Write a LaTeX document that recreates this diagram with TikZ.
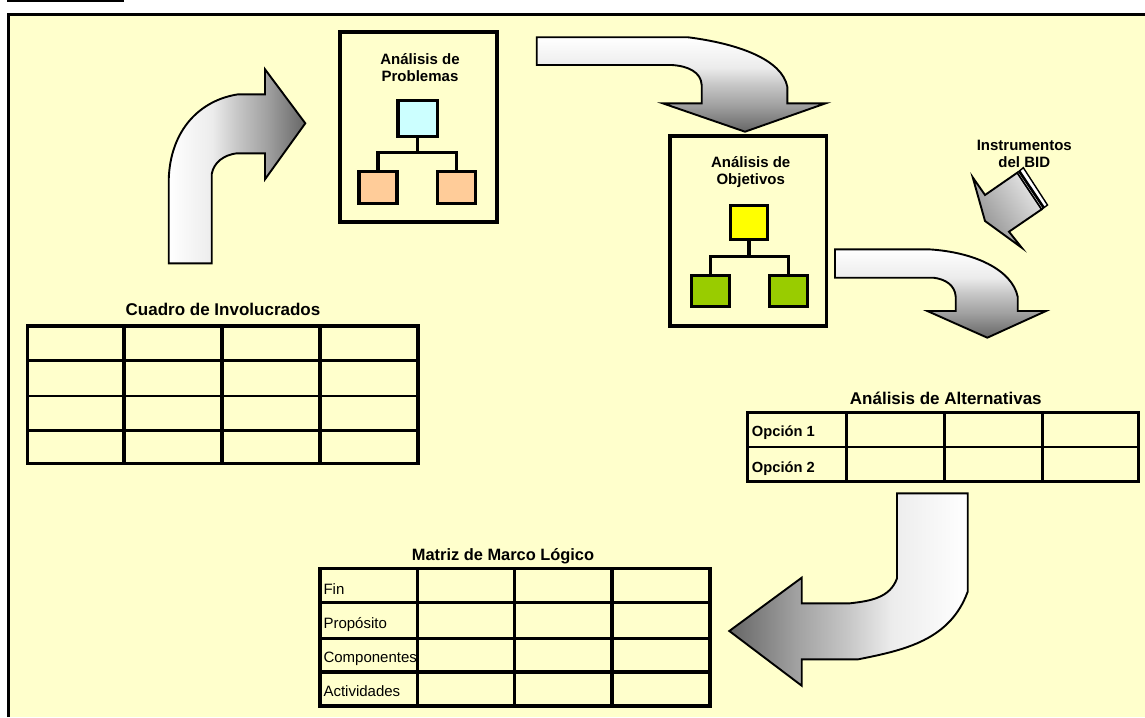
\documentclass[tikz,border=0pt]{standalone}
\usepackage{fontspec}
\setmainfont{Liberation Sans}
\definecolor{paper}{HTML}{FFFFCC}
\definecolor{probtop}{HTML}{CCFFFF}
\definecolor{probsub}{HTML}{FFCC99}
\definecolor{objtop}{HTML}{FFFF00}
\definecolor{objsub}{HTML}{99CC00}
\pgfdeclarehorizontalshading{bendfade}{100bp}{
  rgb(0bp)=(1,1,1); rgb(25bp)=(1,1,1);
  rgb(41bp)=(0.925,0.925,0.925);
  rgb(50bp)=(0.78,0.78,0.78);
  rgb(61bp)=(0.63,0.63,0.63);
  rgb(75bp)=(0.40,0.40,0.40); rgb(100bp)=(0.40,0.40,0.40)}
\tikzset{
  panel/.style={draw=black,line width=3.2pt,fill=paper},
  orgbox/.style={draw=black,line width=3.2pt,inner sep=0pt,outer sep=0pt},
  orgline/.style={draw=black,line width=3.2pt},
  gridthick/.style={draw=black,line width=3.2pt},
  gridthin/.style={draw=black,line width=1.8pt},
  bentarrow/.style={draw=black,line width=1.9pt,line join=miter},
  boldlabel/.style={font=\bfseries\fontsize{15}{17}\selectfont,inner sep=0pt,anchor=base,align=center},
  tabletitle/.style={font=\bfseries\fontsize{17}{19}\selectfont,inner sep=0pt,anchor=base},
  optionlabel/.style={font=\bfseries\fontsize{14.7}{17}\selectfont,inner sep=0pt,anchor=base west},
  rowlabel/.style={font=\fontsize{15}{17}\selectfont,inner sep=0pt,anchor=base west},
}
\begin{document}
\begin{tikzpicture}[x=1pt,y=-1pt]
\useasboundingbox (0,0) rectangle (1145,717);
\fill[white] (0,0) rectangle (1145,717);
% header remnant and main panel
\fill[black] (7,0) rectangle (124,2);
\fill[paper] (8.5,14.5) rectangle (1145,717);
\draw[black,line width=3pt] (8.5,717) -- (8.5,14.5) -- (1145,14.5);

% --- Analisis de Problemas
\draw[panel] (340,32) rectangle (497,222);
\node[boldlabel] (ptitle1) at (420,64) {Análisis de};
\node[boldlabel] (ptitle2) at (420,81.7) {Problemas};
\node[orgbox,fill=probtop,minimum width=39.5pt,minimum height=36.5pt] (p0) at (417.7,118.5) {};
\node[orgbox,fill=probsub,minimum width=38pt,minimum height=32pt] (p1) at (378,187.5) {};
\node[orgbox,fill=probsub,minimum width=38pt,minimum height=32pt] (p2) at (456.3,187.5) {};
\coordinate (pj) at (417.7,152.7);
\draw[orgline] (p0.south) -- (pj);
\draw[orgline] (p1.north) |- (pj) -| (p2.north);

% --- Analisis de Objetivos
\draw[panel] (670,136) rectangle (826.7,326);
\node[boldlabel] (otitle1) at (750.7,167.7) {Análisis de};
\node[boldlabel] (otitle2) at (750.7,184.5) {Objetivos};
\node[orgbox,fill=objtop,minimum width=36.5pt,minimum height=34pt] (o0) at (749,222.3) {};
\node[orgbox,fill=objsub,minimum width=38pt,minimum height=31.5pt] (o1) at (710.5,291) {};
\node[orgbox,fill=objsub,minimum width=38pt,minimum height=31.5pt] (o2) at (788.5,291) {};
\coordinate (oj) at (749,256.3);
\draw[orgline] (o0.south) -- (oj);
\draw[orgline] (o1.north) |- (oj) -| (o2.north);

% --- Bent arrows
\path[bentarrow,shading=bendfade]
  (168.7,263.3) -- (211.7,263.3) -- (211.7,174)
  .. controls (214,162) and (224,155) .. (236.7,153.3)
  -- (265,153.3) -- (265,179.3) -- (305.3,123.3) -- (265,69.3) -- (265,94.3) -- (238.3,94.3)
  .. controls (200,100) and (170,130) .. (168.7,180) -- cycle;

\path[bentarrow,shading=bendfade,shading angle=-90]
  (536.7,37.3) -- (688.3,37.3)
  .. controls (740,44) and (782,60) .. (787.3,86.7)
  -- (787.3,103.3) -- (825.7,103.3) -- (745,131.7) -- (662.7,103.3) -- (701.7,103.3) -- (701.7,85)
  .. controls (701,72) and (688,66) .. (671.7,65)
  -- (536.7,65) -- cycle;

\path[bentarrow,shading=bendfade,shading angle=-90]
  (835,249.3) -- (928.3,249.3)
  .. controls (975,252) and (1012,270) .. (1017.7,296.7)
  -- (1017.7,311) -- (1046,311) -- (987.3,337.7) -- (927.3,311) -- (955.7,311) -- (955.7,296.7)
  .. controls (955,285) and (945,279) .. (933.3,277.7)
  -- (835,277.7) -- cycle;

\path[bentarrow,shading=bendfade,shading angle=180]
  (897,493.3) -- (967.7,493.3) -- (967.7,591.7)
  .. controls (950,640) and (905,650) .. (858.3,659.3)
  -- (801.7,659.3) -- (801.7,685.7) -- (729.3,631) -- (801.7,577.7) -- (801.7,603.3) -- (850,603.3)
  .. controls (870,601) and (890,598) .. (897,578.3) -- cycle;

% --- Instrumentos del BID arrow
\node[boldlabel] (bid1) at (1024.3,150) {Instrumentos};
\node[boldlabel] (bid2) at (1024.3,167.7) {del BID};
\path[bentarrow,top color=white!90!black,bottom color=black!45,shading angle=-55]
  (972.7,177.3) -- (985,195) -- (1017.3,172.7) -- (1041.7,209.3) -- (1009,231.7)
  -- (1021.7,247.7) -- (985,221) -- cycle;
\path[draw=black,line width=1.4pt,fill=white]
  (1017.3,172.7) -- (1023.3,167.7) -- (1047.5,205) -- (1041.7,209.3) -- cycle;
\draw[black,line width=2.6pt] (1019.3,171.3) -- (1043.8,207.8);

% --- Cuadro de Involucrados
\node[tabletitle] (t1) at (223,315.7) {Cuadro de Involucrados};
\draw[gridthick] (27.3,326) rectangle (418,463.7);
\foreach \xa in {124,222,320} \draw[gridthick] (\xa,326) -- (\xa,463.7);
\draw[gridthick] (27.3,360.3) -- (418,360.3);
\draw[gridthin] (27.3,395.7) -- (418,395.7);
\draw[gridthick] (27.3,430.3) -- (418,430.3);

% --- Analisis de Alternativas
\node[tabletitle] (t2) at (945.8,404) {Análisis de Alternativas};
\draw[gridthick] (747.7,412.3) rectangle (1138.3,481.7);
\foreach \xa in {846.3,944.3,1042.3} \draw[gridthick] (\xa,412.3) -- (\xa,481.7);
\draw[gridthin] (747.7,447.3) -- (1138.3,447.3);
\node[optionlabel] (op1) at (751.7,436) {Opción 1};
\node[optionlabel] (op2) at (751.7,472.3) {Opción 2};

% --- Matriz de Marco Logico
\node[tabletitle,font=\bfseries\fontsize{16.4}{19}\selectfont] (t3) at (503,560) {Matriz de Marco Lógico};
\draw[gridthick] (320,568.3) rectangle (710,706);
\foreach \xa in {417.7,514.3,612} \draw[gridthick] (\xa,568.3) -- (\xa,706);
\foreach \ya in {602.7,638.3,672} \draw[gridthick] (320,\ya) -- (710,\ya);
\node[rowlabel] (r1) at (323.3,594.3) {Fin};
\node[rowlabel] (r2) at (323.3,628.3) {Propósito};
\node[rowlabel] (r3) at (323.3,662.7) {Componentes};
\node[rowlabel] (r4) at (323.3,696) {Actividades};
\end{tikzpicture}
\end{document}
